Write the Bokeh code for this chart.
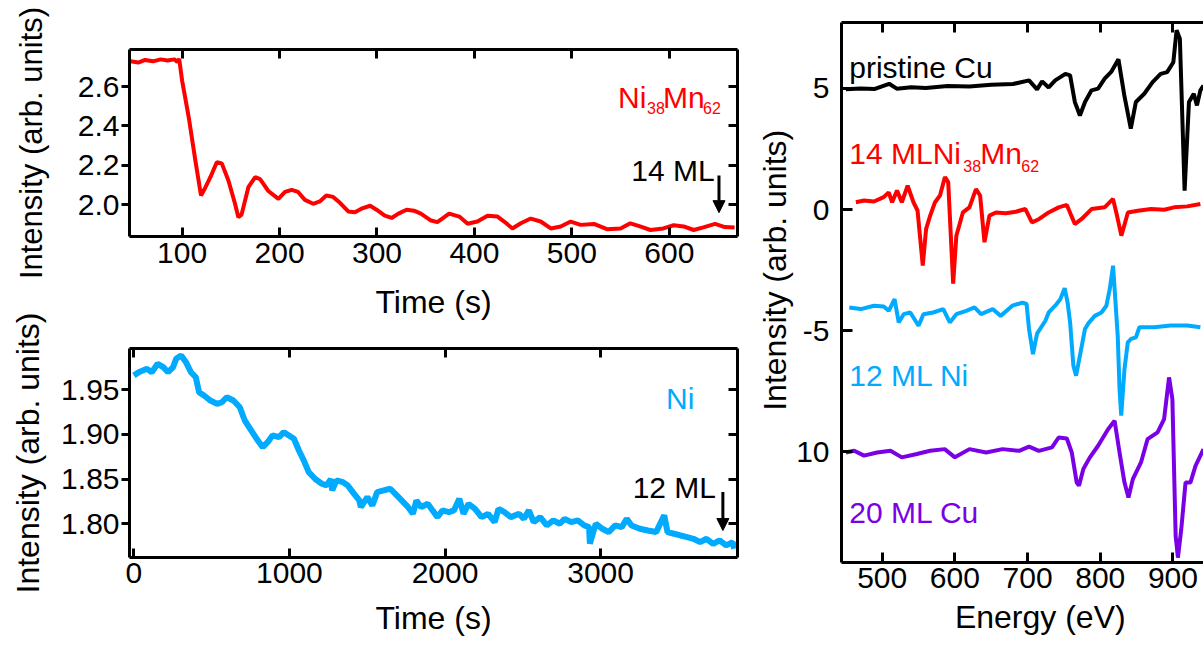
import numpy as np
from bokeh.plotting import figure
from bokeh.models import (LinearAxis, FixedTicker, PrintfTickFormatter, Label,
                          Arrow, NormalHead, Range1d)
from bokeh.layouts import row, column
from bokeh.embed import file_html
from bokeh.resources import INLINE

FONT = "Liberation Sans"
RED = "#FF0000"
BLUE = "#00AAFF"
PURPLE = "#7A00E6"
NB = "\u00a0"

# ---------------- data: RHEED Ni38Mn62 ----------------
nimn_time = [47, 55, 62, 70, 78, 85, 92, 95, 97, 100,
             106.8, 113.6, 119.4, 124, 129, 135.6, 140.7, 147.5, 154.3, 157.7,
             161, 168, 175, 180, 188.5, 198.8, 205.6, 212.4, 219, 226,
             234.5, 241.3, 248, 255, 262, 270.5, 277.4, 284, 293, 299.5,
             308, 315, 322, 330.4, 338, 345, 355.5, 362, 374, 384.5,
             393, 403, 413.5, 423.7, 430.5, 439, 447.6, 457.8, 468, 478.4,
             488.6, 498.8, 509, 522.6, 536, 550, 560, 570, 580.6, 594,
             604.5, 614.7, 625, 635, 647, 657, 667]
nimn_int = [2.728, 2.722, 2.735, 2.728, 2.738, 2.732, 2.738, 2.725, 2.740, 2.630,
            2.444, 2.224, 2.047, 2.089, 2.140, 2.216, 2.210, 2.123, 2.005, 1.937,
            1.950, 2.089, 2.140, 2.130, 2.070, 2.030, 2.065, 2.076, 2.065, 2.025,
            2.005, 2.017, 2.047, 2.040, 2.010, 1.966, 1.962, 1.980, 1.995, 1.975,
            1.945, 1.933, 1.955, 1.975, 1.970, 1.955, 1.920, 1.912, 1.955, 1.940,
            1.904, 1.915, 1.944, 1.940, 1.915, 1.880, 1.906, 1.930, 1.915, 1.880,
            1.890, 1.915, 1.898, 1.903, 1.876, 1.880, 1.906, 1.890, 1.872, 1.880,
            1.896, 1.890, 1.872, 1.885, 1.903, 1.887, 1.885]

# ---------------- data: RHEED Ni ----------------
ni_time = [0, 31, 84, 115, 153, 189, 220, 252, 272, 304,
           335, 367, 398, 419, 451, 492, 535, 566, 597, 640,
           681, 713, 755, 797, 828, 860, 891, 933, 964,
           1029, 1061, 1092, 1124, 1166, 1208, 1239, 1266, 1275, 1302,
           1344, 1375, 1407, 1449, 1459, 1501, 1533, 1564, 1606, 1648,
           1690, 1732, 1763, 1794, 1816, 1847, 1889, 1920, 1952, 1983,
           2025, 2057, 2092, 2119, 2151, 2193, 2235, 2277, 2319, 2344,
           2382, 2423, 2476, 2507, 2539, 2570, 2612, 2654, 2696, 2738,
           2769, 2811, 2853, 2895, 2926, 2931,
           2969, 3011, 3052, 3094, 3136, 3168, 3199, 3252, 3304, 3357,
           3409, 3430, 3472, 3514, 3556, 3597, 3640, 3681, 3723, 3765,
           3807, 3849, 3859]
ni_int = [1.9656, 1.9693, 1.9731, 1.9693, 1.9787, 1.9750, 1.9693, 1.9750, 1.9843, 1.9880,
          1.9805, 1.9693, 1.9637, 1.9470, 1.9433, 1.9377, 1.9340, 1.9358, 1.9414, 1.9377,
          1.9302, 1.9154, 1.9042, 1.8930, 1.8856, 1.8912, 1.8987, 1.8968, 1.9024,
          1.8950, 1.8819, 1.8708, 1.8577, 1.8500, 1.8448, 1.8429, 1.8500, 1.8373, 1.8485,
          1.8466, 1.8429, 1.8354, 1.8261, 1.8186, 1.8298, 1.8205, 1.8354, 1.8373, 1.8392,
          1.8317, 1.8242, 1.8186, 1.8112, 1.8261, 1.8186, 1.8224, 1.8150, 1.8075, 1.8150,
          1.8131, 1.8150, 1.8280, 1.8112, 1.8224, 1.8168, 1.8075, 1.8112, 1.8019, 1.8168,
          1.8131, 1.8075, 1.8112, 1.8056, 1.8150, 1.8019, 1.8075, 1.7982, 1.8038, 1.8001,
          1.8056, 1.8019, 1.8038, 1.7982, 1.7963, 1.7780,
          1.8001, 1.7945, 1.7908, 1.7982, 1.7963, 1.8056, 1.7982, 1.7945, 1.7926, 1.7908,
          1.8094, 1.7908, 1.7889, 1.7870, 1.7852, 1.7833, 1.7796, 1.7833, 1.7777, 1.7815,
          1.7759, 1.7796, 1.7722]

# ---------------- data: Auger spectra ----------------
cu_energy = [450, 470, 490, 509.5, 520, 540, 560, 590, 620, 650, 680, 702,
             713, 720, 729, 738, 752, 758.5, 765, 772, 779, 788,
             797, 806, 815, 825, 833, 842, 849, 860.5, 872, 883,
             892, 900.5, 905, 909.5, 916, 922, 928.6, 933, 937.7, 942]
cu_spec = [4.96, 5.00, 4.98, 5.19, 4.99, 5.05, 5.02, 5.10, 5.08, 5.15, 5.18, 5.33,
           4.96, 5.29, 5.04, 5.33, 5.60, 5.54, 4.44, 3.88, 4.44, 4.92,
           4.99, 5.40, 5.68, 6.20, 4.72, 3.34, 4.44, 4.78, 5.26, 5.60,
           5.67, 6.08, 7.40, 7.05, 0.78, 4.44, 4.78, 4.30, 4.92, 5.12]

nimn_energy = [463.8, 475, 488.7, 502, 509, 513.6, 520.4, 527, 535, 543,
               548.6, 555.8, 560.4, 566, 572.6, 579.5, 586.3, 590.8, 597.6, 602,
               611, 620, 629, 634.7, 640.7, 647.5, 656.5, 670, 683.9, 697,
               706, 715.5, 729, 742.7, 754, 765, 774.4, 788, 806, 817.5,
               822, 829, 838, 851.6, 870, 888, 901.4, 919.6, 937.7]
nimn_spec = [0.30, 0.37, 0.33, 0.51, 0.71, 0.30, 0.78, 0.30, 0.99, 0.30,
             -0.04, -2.31, -0.80, -0.25, 0.30, 0.58, 1.34, 1.13, -3.06, -1.08,
             -0.12, 0.09, 0.84, 0.58, -1.35, -0.25, -0.12, -0.15, -0.09, 0.02,
             -0.53, -0.40, -0.12, 0.09, 0.19, -0.60, -0.39, 0.02, 0.09, 0.44,
             -0.12, -1.08, -0.12, -0.05, 0.02, -0.01, 0.09, 0.13, 0.23]

ni_energy = [454.7, 470.6, 488.7, 502, 509, 517, 522.7, 529.5, 538.6, 550,
             556.7, 570, 584, 593, 602, 615.6, 627, 636, 652, 663,
             679, 692.8, 698.6, 702, 707.4, 713, 724.5, 729, 738, 745,
             751, 755, 758.5, 763, 766.7, 772, 779, 783.5, 792.5, 801.6,
             808.4, 813, 817.6, 824, 826.5, 828.8, 833.3, 837.9, 842.4, 849,
             853.8, 874, 896.8, 919.6, 937.7]
ni_spec = [-4.04, -4.11, -3.97, -4.00, -4.18, -3.70, -4.66, -4.32, -4.25, -4.80,
           -4.32, -4.25, -4.11, -4.66, -4.32, -4.18, -4.04, -4.32, -4.11, -4.39,
           -3.97, -3.84, -3.90, -4.93, -5.97, -5.12, -4.59, -4.25, -3.97, -3.70,
           -3.25, -3.83, -4.66, -6.45, -6.86, -6.03, -4.93, -4.70, -4.39, -4.25,
           -3.97, -3.29, -2.32, -5.21, -7.41, -8.51, -6.58, -5.48, -5.34, -5.28,
           -4.86, -4.86, -4.79, -4.79, -4.86]

cu20_energy = [450, 461.5, 475, 493, 511.4, 527, 547.6, 566, 586, 600,
               620, 643, 665.6, 688.3, 702, 715.5, 733.6, 742.7, 754, 760.8,
               767.6, 770.7, 776.7, 785.7, 797, 810.7, 819.7, 826.5, 833.3, 838.8,
               844.8, 856, 865, 878.8, 887.8, 894.6, 899.2, 903.7, 906.8, 911.4,
               917.3, 924, 931, 942]
cu20_spec = [-10.03, -9.96, -10.16, -10.03, -9.96, -10.23, -10.09, -9.96, -9.89, -10.23,
             -9.89, -10.03, -9.89, -9.96, -9.79, -9.96, -9.82, -9.41, -9.45, -10.03,
             -11.27, -11.40, -10.71, -10.23, -9.75, -9.07, -8.72, -10.03, -11.27, -11.89,
             -11.13, -10.44, -9.48, -9.20, -8.65, -6.93, -7.83, -13.48, -14.37, -13.20,
             -11.27, -11.27, -10.58, -9.89]

# ticks
t1_xticks = [100, 200, 300, 400, 500, 600]
t1_yticks = [2.0, 2.2, 2.4, 2.6]
t2_xticks = [0, 1000, 2000, 3000]
t2_yticks = [1.80, 1.85, 1.90, 1.95]
e_xticks = [500, 600, 700, 800, 900]
e_yticks = [5, 0, -5, -10]
e_ylabels = {5: "5", 0: "0", -5: "-5", -10: "10"}


def style_axis(ax, ticks, tin, tout, show_labels=True, fmt=None):
    ax.ticker = FixedTicker(ticks=ticks)
    ax.axis_line_width = 3
    ax.axis_line_color = "black"
    ax.major_tick_line_width = 3
    ax.major_tick_line_color = "black"
    ax.major_tick_in = tin
    ax.major_tick_out = tout
    ax.minor_tick_line_color = None
    ax.major_label_text_font = FONT
    ax.major_label_text_color = "black"
    ax.axis_label_text_font = FONT
    ax.axis_label_text_font_size = "32px"
    ax.axis_label_text_font_style = "normal"
    ax.axis_label_text_color = "black"
    if show_labels:
        ax.major_label_text_font_size = "30px"
        if fmt:
            ax.formatter = PrintfTickFormatter(format=fmt)
    else:
        ax.major_label_overrides = {t: "" for t in ticks}
        ax.major_label_text_font_size = "1px"
        ax.major_label_standoff = 0


def txt(p, x, y, text, color, size="30px", align="left", xo=0, yo=0):
    p.add_layout(Label(x=x, y=y, text=text, text_color=color, text_font=FONT,
                       text_font_size=size, text_align=align,
                       text_baseline="alphabetic", x_offset=xo, y_offset=yo))


def head():
    return NormalHead(size=12, fill_color="black", line_color="black", line_width=1)


# ---------------- panel 1 ----------------
p1 = figure(width=754, height=280, x_range=Range1d(46, 670), y_range=Range1d(1.839, 2.788),
            output_backend="svg", toolbar_location=None,
            min_border_left=127, min_border_right=17, min_border_top=49, min_border_bottom=44)
p1.grid.visible = False
p1.outline_line_color = None
p1.line(nimn_time, nimn_int, color=RED, line_width=4)
style_axis(p1.xaxis[0], t1_xticks, 9, 0)
style_axis(p1.yaxis[0], t1_yticks, 0, 8, fmt="%.1f")
p1.yaxis[0].axis_label = "Intensity (arb. units)"
p1.yaxis[0].axis_label_text_font_size = "31px"
p1.xaxis[0].major_label_standoff = 6
p1.yaxis[0].major_label_standoff = 2
p1.yaxis[0].axis_label_standoff = 26
a = LinearAxis(); style_axis(a, t1_xticks, 9, 0, show_labels=False); p1.add_layout(a, "above")
a = LinearAxis(); style_axis(a, t1_yticks, 9, 0, show_labels=False); p1.add_layout(a, "right")
txt(p1, 547.4, 2.544, "Ni", RED)
txt(p1, 547.4, 2.544, "38", RED, size="16px", xo=29, yo=-10)
txt(p1, 547.4, 2.544, "Mn", RED, xo=45)
txt(p1, 547.4, 2.544, "62", RED, size="16px", xo=85, yo=-10)
txt(p1, 646.5, 2.174, "14 ML", "black", align="right")
p1.add_layout(Arrow(end=head(), x_start=651, y_start=2.148, x_end=651, y_end=1.96,
                    line_width=3, line_color="black"))

# ---------------- panel 2 ----------------
p2 = figure(width=754, height=370, x_range=Range1d(-28, 3880), y_range=Range1d(1.7624, 1.9958),
            output_backend="svg", toolbar_location=None,
            min_border_left=129, min_border_right=4, min_border_top=68, min_border_bottom=93)
p2.grid.visible = False
p2.outline_line_color = None
p2.line(ni_time, ni_int, color=BLUE, line_width=6)
style_axis(p2.xaxis[0], t2_xticks, 9, 0)
style_axis(p2.yaxis[0], t2_yticks, 0, 8, fmt="%.2f")
p2.xaxis[0].axis_label = "Time (s)"
p2.yaxis[0].axis_label = "Intensity (arb. units)"
p2.xaxis[0].major_label_standoff = 5
p2.xaxis[0].axis_label_standoff = 14
p2.yaxis[0].major_label_standoff = 2
p2.yaxis[0].axis_label_standoff = 12
# top axis of the lower panel also carries the upper panel's time label
a = LinearAxis(); style_axis(a, t2_xticks, 9, 0, show_labels=False)
a.axis_label = "Time (s)"
a.axis_label_standoff = 29
p2.add_layout(a, "above")
a = LinearAxis(); style_axis(a, t2_yticks, 9, 0, show_labels=False); p2.add_layout(a, "right")
txt(p2, 3421, 1.94, "Ni", BLUE)
txt(p2, 3742, 1.841, "12 ML", "black", align="right")
p2.add_layout(Arrow(end=head(), x_start=3786, y_start=1.8355, x_end=3786, y_end=1.7925,
                    line_width=3, line_color="black"))

# ---------------- panel 3 ----------------
p3 = figure(width=449, height=650, x_range=Range1d(444, 942), y_range=Range1d(-14.57, 7.72),
            output_backend="svg", toolbar_location=None,
            min_border_left=83, min_border_right=0, min_border_top=22, min_border_bottom=88)
p3.grid.visible = False
p3.outline_line_color = None
p3.line(cu_energy, cu_spec, color="black", line_width=4)
p3.line(nimn_energy, nimn_spec, color=RED, line_width=4)
p3.line(ni_energy, ni_spec, color=BLUE, line_width=4)
p3.line(cu20_energy, cu20_spec, color=PURPLE, line_width=4)
style_axis(p3.xaxis[0], e_xticks, 10, 0)
style_axis(p3.yaxis[0], e_yticks, 11, 0)
p3.yaxis[0].major_label_overrides = e_ylabels
p3.xaxis[0].major_label_standoff = 5
p3.yaxis[0].major_label_standoff = 12
p3.xaxis[0].axis_label = NB * 4 + "Energy (eV)"
p3.xaxis[0].axis_label_standoff = 8
p3.yaxis[0].axis_label = NB * 5 + "Intensity (arb. units)"
p3.yaxis[0].axis_label_standoff = 0
a = LinearAxis(); style_axis(a, e_xticks, 10, 0, show_labels=False); p3.add_layout(a, "above")
txt(p3, 454.7, 5.88, "pristine Cu", "black")
txt(p3, 454.7, 2.30, "14 MLNi", RED)
txt(p3, 454.7, 2.30, "38", RED, size="16px", xo=114, yo=-12)
txt(p3, 454.7, 2.30, "Mn", RED, xo=131)
txt(p3, 454.7, 2.30, "62", RED, size="16px", xo=172, yo=-12)
txt(p3, 454.7, -6.86, "12 ML Ni", BLUE)
txt(p3, 454.7, -12.51, "20 ML Cu", PURPLE)

layout = row(column(p1, p2), p3)
open("out.html", "w").write(file_html(layout, INLINE))
